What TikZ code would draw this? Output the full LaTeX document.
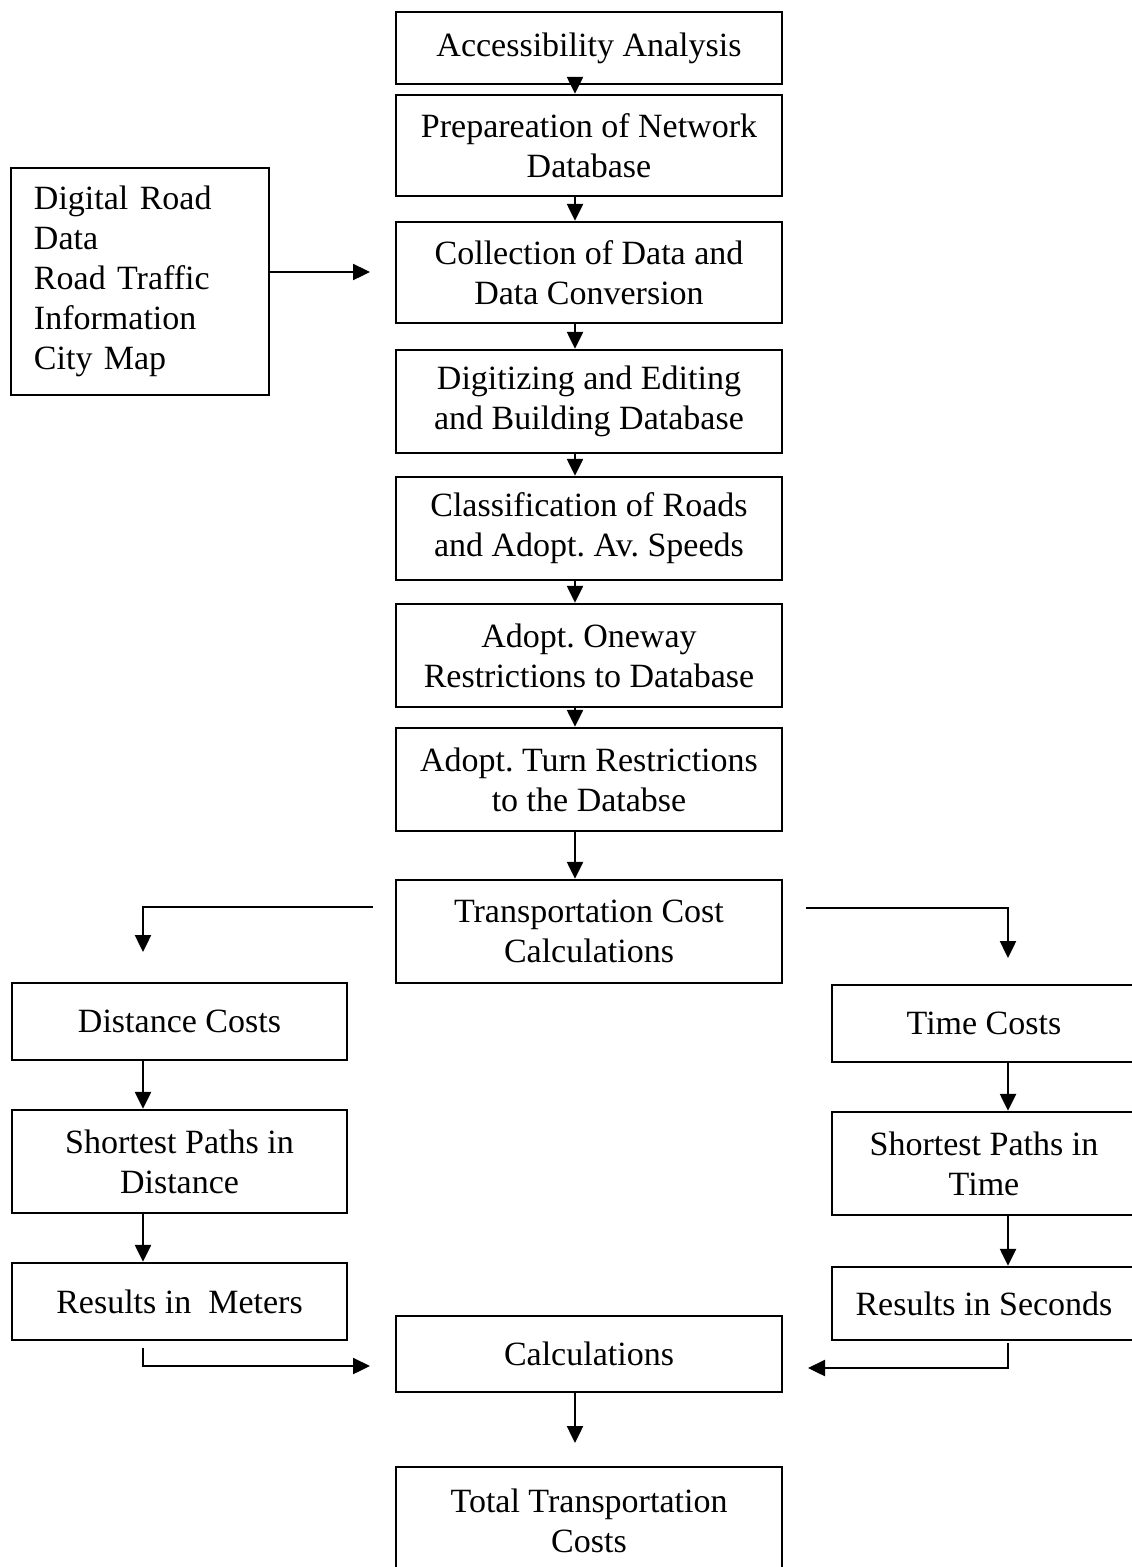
\documentclass[tikz,border=0pt]{standalone}
\usepackage{fontspec}
\setmainfont{Liberation Serif}
\usetikzlibrary{arrows.meta,positioning}
\frenchspacing

\begin{document}
\begin{tikzpicture}[x=1pt,y=-1pt,
      box/.style={draw,line width=2.4pt,minimum width=386pt,minimum height=103pt,
                  inner sep=0pt,align=center,font=\fontsize{34}{40}\selectfont},
      sidebox/.style={box,minimum width=335pt},
      timebox/.style={box,minimum width=304pt},
      flow/.style={->,line width=2.4pt},
      >={Triangle[length=17pt,width=16pt]}]
    \useasboundingbox (0,0) rectangle (1132,1567);
    \node[box,minimum height=72pt] (acc)  at (589,48)    {Accessibility Analysis};
    \node[box,minimum height=101pt] (prep) at (589,145.5) {Prepareation of Network\\Database};
    \node[box,minimum height=101pt] (coll) at (589,272.5) {Collection of Data and\\Data Conversion};
    \node[box] (digi)  at (589,401.5) {Digitizing and Editing\\and Building Database};
    \node[box] (clas)  at (589,528.5) {Classification of Roads\\and Adopt. Av. Speeds};
    \node[box] (onew)  at (589,655.5) {Adopt. Oneway\\Restrictions to Database};
    \node[box] (turn)  at (589,779.5) {Adopt. Turn Restrictions\\to the Databse};
    \node[box] (tcost) at (589,931.5) {Transportation Cost\\Calculations};
    \node[box,minimum height=76pt] (calc) at (589,1354) {Calculations};
    \node[box,minimum height=108pt] (total) at (589,1521) {Total Transportation\\Costs};
    \node[box,minimum width=0pt,minimum height=227pt,text width=212pt,
          inner xsep=23pt,align=left] (src) at (140,281.5)
          {Digital Road\\Data\\Road Traffic\\Information\\City Map};
    \node[sidebox,minimum height=77pt] (dist) at (179.5,1021.5) {Distance Costs};
    \node[sidebox] (spd)  at (179.5,1161.5) {Shortest Paths in\\Distance};
    \node[sidebox,minimum height=77pt] (rmet) at (179.5,1301.5) {Results in \ Meters};
    \node[timebox,minimum height=77pt] (time) at (984,1023.5) {Time Costs};
    \node[timebox] (spt)  at (984,1163.5) {Shortest Paths in\\Time};
    \node[timebox,minimum height=73pt] (rsec) at (984,1303.5) {Results in Seconds};
    \coordinate (mid)  at (575,0);
    \coordinate (lcol) at (143,0);
    \coordinate (rcol) at (1008,0);
    \coordinate (cin)  at (370,272);
    \coordinate (tl)   at (373,907);
    \coordinate (tr)   at (806,908);
    \coordinate (dtop) at (143,952);
    \coordinate (ttop) at (1008,958);
    \coordinate (ml)   at (143,1348);
    \coordinate (cl)   at (370,1366);
    \coordinate (mr)   at (1008,1343);
    \coordinate (cr)   at (808,1368);
    \coordinate (tot)  at (575,1443);
    \draw[flow] (acc.south -| mid)  -- (prep.north -| mid);
    \draw[flow] (prep.south -| mid) -- (coll.north -| mid);
    \draw[flow] (coll.south -| mid) -- (digi.north -| mid);
    \draw[flow] (digi.south -| mid) -- (clas.north -| mid);
    \draw[flow] (clas.south -| mid) -- (onew.north -| mid);
    \draw[flow] (onew.south -| mid) -- (turn.north -| mid);
    \draw[flow] (turn.south -| mid) -- (tcost.north -| mid);
    \draw[flow] (src.east |- cin) -- (cin);
    \draw[flow] (tl) -| (dtop);
    \draw[flow] (tr) -| (ttop);
    \draw[flow] (dist.south -| lcol) -- (spd.north -| lcol);
    \draw[flow] (spd.south -| lcol)  -- (rmet.north -| lcol);
    \draw[flow] (time.south -| rcol) -- (spt.north -| rcol);
    \draw[flow] (spt.south -| rcol)  -- (rsec.north -| rcol);
    \draw[flow] (ml) |- (cl);
    \draw[flow] (mr) |- (cr);
    \draw[flow] (calc.south -| mid) -- (tot);
  \end{tikzpicture}
\end{document}
